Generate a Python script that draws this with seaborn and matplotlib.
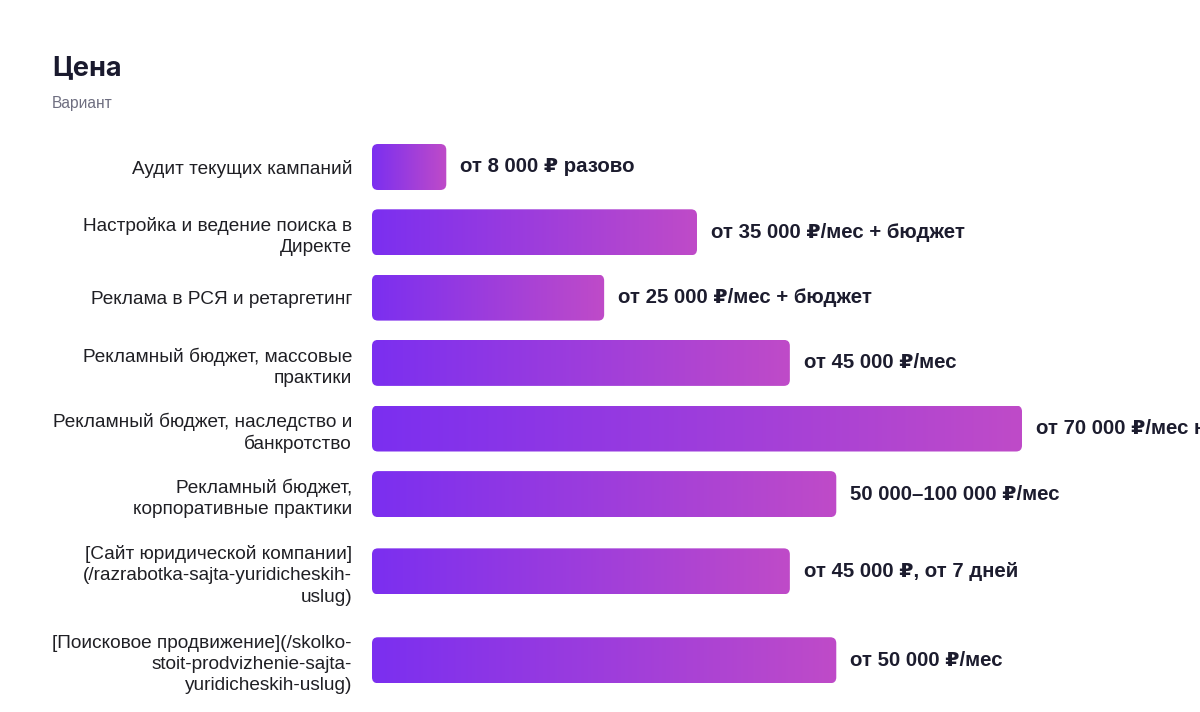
import numpy as np
import pandas as pd
import matplotlib
matplotlib.use("Agg")
import matplotlib.pyplot as plt
from matplotlib.colors import LinearSegmentedColormap
from matplotlib.patches import FancyBboxPatch
import seaborn as sns

services = [
    "Аудит текущих кампаний",
    "Настройка и ведение поиска в\nДиректе",
    "Реклама в РСЯ и ретаргетинг",
    "Рекламный бюджет, массовые\nпрактики",
    "Рекламный бюджет, наследство и\nбанкротство",
    "Рекламный бюджет,\nкорпоративные практики",
    "[Сайт юридической компании]\n(/razrabotka-sajta-yuridicheskih-\nuslug)",
    "[Поисковое продвижение](/skolko-\nstoit-prodvizhenie-sajta-\nyuridicheskih-uslug)",
]
prices = [8000, 35000, 25000, 45000, 70000, 50000, 45000, 50000]
price_labels = [
    "от 8 000 ₽ разово",
    "от 35 000 ₽/мес + бюджет",
    "от 25 000 ₽/мес + бюджет",
    "от 45 000 ₽/мес",
    "от 70 000 ₽/мес на рекламу",
    "50 000–100 000 ₽/мес",
    "от 45 000 ₽, от 7 дней",
    "от 50 000 ₽/мес",
]

W, H, DPI = 1200, 712, 100
AX_LEFT = 372          # px where 0 ₽ sits
PX_PER_RUB = 325 / 35000
K = 1 / PX_PER_RUB     # rubles per pixel
BAR_H, LINE_H, GAP = 46, 23.3, 19
TOP = 134.5

# row layout like the html: taller rows for 3-line labels
centers = []
top = TOP
for s in services:
    h = max(BAR_H, s.count("\n") * LINE_H + LINE_H) + GAP
    centers.append(top + h / 2)
    top += h

df = pd.DataFrame({"service": services, "price": prices, "pos": centers})

sns.set_theme(style="white")
plt.rcParams["font.family"] = ["Liberation Sans", "DejaVu Sans"]

fig = plt.figure(figsize=(W / DPI, H / DPI), dpi=DPI)
ax = fig.add_axes([AX_LEFT / W, 0, (W - AX_LEFT) / W, 1])

min_step = np.min(np.diff(sorted(centers)))
sns.barplot(data=df, x="price", y="pos", orient="y", native_scale=True,
            width=BAR_H / min_step, color="#7B2FF0", ax=ax)

ax.set_xlim(0, (W - AX_LEFT) * K)
ax.set_ylim(H, 0)

cmap = LinearSegmentedColormap.from_list("bar", ["#7B2FF0", "#BF4BC8"])
grad = np.linspace(0, 1, 256).reshape(1, -1)
for p in ax.patches:
    x0, y0, w, h = p.get_x(), p.get_y(), p.get_width(), p.get_height()
    y0, h = min(y0, y0 + h), abs(h)
    p.set_visible(False)
    box = FancyBboxPatch((x0, y0), w, h,
                         boxstyle=f"round,pad=0,rounding_size={6 * K}",
                         mutation_aspect=1 / K, facecolor="none",
                         edgecolor="none", transform=ax.transData)
    ax.add_patch(box)
    im = ax.imshow(grad, cmap=cmap, aspect="auto",
                   extent=[x0, x0 + w, y0 + h, y0], zorder=2)
    im.set_clip_path(box)

for c, v, lab in zip(centers, prices, price_labels):
    ax.text(v + 14 * K, c, lab, ha="left", va="center", fontsize=14.7,
            fontweight="bold", color="#1c1c2e", clip_on=False)

ax.set_xlim(0, (W - AX_LEFT) * K)
ax.set_ylim(H, 0)
ax.set_yticks(centers, services)
ax.tick_params(axis="y", length=0, pad=14.4, labelsize=13.7, labelcolor="#1f1f24")
for t in ax.get_yticklabels():
    t.set_linespacing(1.32)
ax.set_xticks([])
ax.set_xlabel("")
ax.set_ylabel("")
for sp in ax.spines.values():
    sp.set_visible(False)

fig.text(52 / W, 1 - 75 / H, "Цена", fontsize=19.5, fontweight="bold",
         color="#1a1a2e", va="baseline", ha="left",
         family=["Inter", "DejaVu Sans"])
fig.text(52 / W, 1 - 108 / H, "Вариант", fontsize=11.2, color="#6e6e80",
         va="baseline", ha="left")

fig.savefig("out.png", dpi=DPI)
